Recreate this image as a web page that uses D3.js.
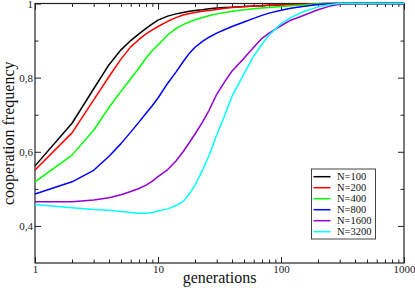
<!DOCTYPE html>
<html>
<head>
<meta charset="utf-8">
<script src="https://cdn.jsdelivr.net/npm/d3@7"></script>
<style>
  html, body { margin: 0; padding: 0; background: #fff; }
  svg { display: block; font-family: "Liberation Serif", "DejaVu Serif", serif; }
</style>
</head>
<body>
<svg id="chart" width="415" height="292"></svg>
<script>
// generations at which the curves were sampled
const generations = [1, 2, 3, 4, 5, 6, 7, 8, 9, 10, 12, 14, 16, 18, 20, 23, 26, 30, 35, 40,
  50, 60, 70, 80, 100, 120, 150, 200, 250, 300, 400, 600, 1000];

const n100 = [0.562, 0.677, 0.770, 0.835, 0.875, 0.900, 0.918, 0.933, 0.945, 0.955, 0.966, 0.972,
  0.976, 0.979, 0.981, 0.983, 0.986, 0.988, 0.989, 0.990, 0.992, 0.993, 0.994, 0.995, 0.996,
  0.997, 0.998, 0.999, 1, 1, 1, 1, 1];
const n200 = [0.551, 0.651, 0.740, 0.803, 0.850, 0.883, 0.903, 0.918, 0.929, 0.938, 0.952, 0.962,
  0.969, 0.973, 0.976, 0.979, 0.981, 0.984, 0.987, 0.989, 0.991, 0.993, 0.994, 0.995, 0.996,
  0.997, 0.998, 0.999, 1, 1, 1, 1, 1];
const n400 = [0.519, 0.591, 0.658, 0.720, 0.763, 0.797, 0.826, 0.853, 0.873, 0.888, 0.915, 0.932,
  0.943, 0.950, 0.956, 0.962, 0.967, 0.972, 0.976, 0.979, 0.983, 0.986, 0.988, 0.989, 0.992,
  0.994, 0.996, 0.999, 1, 1, 1, 1, 1];
const n800 = [0.486, 0.519, 0.550, 0.588, 0.622, 0.653, 0.680, 0.704, 0.725, 0.745, 0.785, 0.815,
  0.843, 0.866, 0.882, 0.898, 0.909, 0.920, 0.930, 0.938, 0.950, 0.960, 0.968, 0.974, 0.982,
  0.987, 0.992, 0.997, 0.999, 1, 1, 1, 1];
const n1600 = [0.465, 0.465, 0.470, 0.476, 0.484, 0.493, 0.501, 0.510, 0.521, 0.533, 0.552, 0.575,
  0.600, 0.625, 0.648, 0.680, 0.712, 0.755, 0.790, 0.818, 0.852, 0.882, 0.906, 0.920, 0.940,
  0.955, 0.967, 0.983, 0.993, 0.998, 1, 1, 1];
const n3200 = [0.458, 0.449, 0.444, 0.442, 0.439, 0.436, 0.434, 0.434, 0.436, 0.440, 0.446, 0.455,
  0.466, 0.487, 0.510, 0.550, 0.590, 0.645, 0.700, 0.750, 0.810, 0.858, 0.890, 0.915, 0.945,
  0.962, 0.977, 0.991, 0.997, 1, 1, 1, 1];

const seriesNames = ["N=100", "N=200", "N=400", "N=800", "N=1600", "N=3200"];
const seriesValues = [n100, n200, n400, n800, n1600, n3200];
const seriesColors = ["#000000", "#ff0000", "#00ff00", "#0000ff", "#9400d3", "#00ffff"];

const xMajor = [1, 10, 100, 1000];
const xTickLabels = ["1", "10", "100", "1000"];
const yMajor = [0.4, 0.6, 0.8, 1];
const yTickLabels = ["0,4", "0,6", "0,8", "1"];
const yMinor = [0.5, 0.7, 0.9];

const svg = d3.select("#chart");
const margin = { top: 3.5, right: 11, bottom: 29, left: 35 },
  width = 415 - margin.left - margin.right,
  height = 292 - margin.top - margin.bottom;

const g = svg.append("g").attr("transform", `translate(${margin.left},${margin.top})`);

const x = d3.scaleLog().domain([1, 1000]).range([0, width]);
const y = d3.scaleLinear().domain([0.3, 1]).range([height, 0]);

// minor x ticks: 2..9 in each decade
const xMinor = [];
xMajor.slice(0, -1).forEach((d) => {
  for (let k = 2; k <= 9; k++) xMinor.push(d * k);
});

const major = 6, minor = 3.5;
const tickColor = "#222";

function styleAxis(sel) {
  sel.select(".domain").remove();
  sel.selectAll("line").attr("stroke", tickColor).attr("stroke-width", 1);
  sel.selectAll("text").attr("fill", "#222").attr("font-size", 11)
    .attr("font-family", '"Liberation Serif", serif');
}

// bottom
g.append("g").attr("transform", `translate(0,${height})`)
  .call(d3.axisBottom(x).tickValues(xMajor).tickFormat((d, i) => xTickLabels[i])
    .tickSizeInner(-major).tickSizeOuter(0).tickPadding(2.5))
  .call(styleAxis);
g.append("g").attr("transform", `translate(0,${height})`)
  .call(d3.axisBottom(x).tickValues(xMinor).tickFormat("").tickSizeInner(-minor).tickSizeOuter(0))
  .call(styleAxis);
// top
g.append("g")
  .call(d3.axisTop(x).tickValues(xMajor).tickFormat("").tickSizeInner(-major).tickSizeOuter(0))
  .call(styleAxis);
g.append("g")
  .call(d3.axisTop(x).tickValues(xMinor).tickFormat("").tickSizeInner(-minor).tickSizeOuter(0))
  .call(styleAxis);
// left
g.append("g")
  .call(d3.axisLeft(y).tickValues(yMajor).tickFormat((d, i) => yTickLabels[i])
    .tickSizeInner(-major).tickSizeOuter(0).tickPadding(2))
  .call(styleAxis);
g.append("g")
  .call(d3.axisLeft(y).tickValues(yMinor).tickFormat("").tickSizeInner(-minor).tickSizeOuter(0))
  .call(styleAxis);
// right
g.append("g").attr("transform", `translate(${width},0)`)
  .call(d3.axisRight(y).tickValues(yMajor).tickFormat("").tickSizeInner(-major).tickSizeOuter(0))
  .call(styleAxis);
g.append("g").attr("transform", `translate(${width},0)`)
  .call(d3.axisRight(y).tickValues(yMinor).tickFormat("").tickSizeInner(-minor).tickSizeOuter(0))
  .call(styleAxis);

// frame
g.append("rect")
  .attr("width", width).attr("height", height)
  .attr("fill", "none").attr("stroke", tickColor).attr("stroke-width", 1.2);

// curves
const line = d3.line()
  .x((d, i) => x(generations[i]))
  .y((d) => y(d));

g.append("g")
  .selectAll("path")
  .data(seriesValues)
  .enter()
  .append("path")
  .attr("fill", "none")
  .attr("stroke", (d, i) => seriesColors[i])
  .attr("stroke-width", 1.5)
  .attr("stroke-linejoin", "round")
  .attr("d", line);

// axis titles
svg.append("text")
  .attr("x", margin.left + width / 2)
  .attr("y", 283)
  .attr("text-anchor", "middle")
  .attr("font-size", 16)
  .attr("fill", "#111")
  .text("generations");

svg.append("text")
  .attr("transform", `translate(13.5,${margin.top + height / 2}) rotate(-90)`)
  .attr("text-anchor", "middle")
  .attr("font-size", 16)
  .attr("fill", "#111")
  .text("cooperation frequency");

// legend
const legend = svg.append("g").attr("transform", "translate(311.5,169)");
legend.append("rect")
  .attr("width", 64).attr("height", 70)
  .attr("fill", "#fff").attr("stroke", "#444").attr("stroke-width", 1);

const rows = legend.selectAll(".row")
  .data(seriesNames)
  .enter()
  .append("g")
  .attr("class", "row")
  .attr("transform", (d, i) => `translate(0,${7.7 + i * 11})`);

rows.append("line")
  .attr("x1", 2).attr("x2", 19)
  .attr("stroke", (d, i) => seriesColors[i])
  .attr("stroke-width", 1.5);

rows.append("text")
  .attr("x", 25.5)
  .attr("y", 3.3)
  .attr("font-size", 10.5)
  .attr("fill", "#111")
  .text((d) => d);
</script>
</body>
</html>
